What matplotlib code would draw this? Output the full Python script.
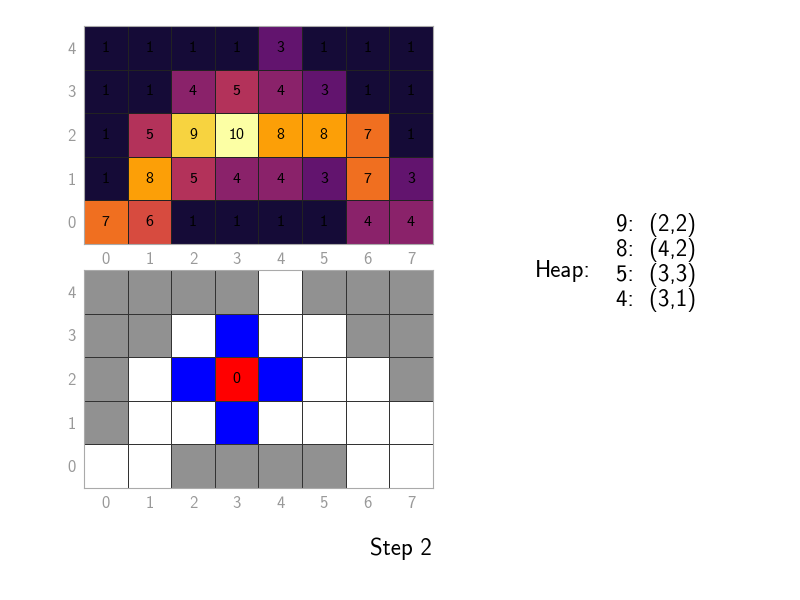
import numpy as np
import matplotlib
matplotlib.use("Agg")
import matplotlib.pyplot as plt
from matplotlib.colors import ListedColormap, PowerNorm

plt.rcParams['font.family'] = ['cmss10', 'DejaVu Sans']
plt.rcParams['axes.unicode_minus'] = False

# heat values, row 0 at the bottom
heat = [
    [7, 6, 1, 1, 1, 1, 4, 4],
    [1, 8, 5, 4, 4, 3, 7, 3],
    [1, 5, 9, 10, 8, 8, 7, 1],
    [1, 1, 4, 5, 4, 3, 1, 1],
    [1, 1, 1, 1, 3, 1, 1, 1],
]
# cell state: 0 free, 1 blocked, 2 neighbour, 3 current
state = [
    [0, 0, 1, 1, 1, 1, 0, 0],
    [1, 0, 0, 2, 0, 0, 0, 0],
    [1, 0, 2, 3, 2, 0, 0, 1],
    [1, 1, 0, 2, 0, 0, 1, 1],
    [1, 1, 1, 1, 0, 1, 1, 1],
]
current = (3, 2)
current_label = "0"
heap = ["9:  (2,2)", "8:  (4,2)", "5:  (3,3)", "4:  (3,1)"]
step = "Step 2"

heat = np.array(heat)
state = np.array(state)
ny, nx = heat.shape

fig = plt.figure(figsize=(8, 6), dpi=100)
ax1 = fig.add_axes([0.105, 0.5933, 0.436, 0.3634])
ax2 = fig.add_axes([0.105, 0.1867, 0.436, 0.3633])

ax1.pcolormesh(np.arange(nx + 1) - 0.5, np.arange(ny + 1) - 0.5, heat,
               cmap='inferno', norm=PowerNorm(gamma=1.1, vmin=-0.2, vmax=10),
               edgecolors='#222222', linewidth=0.5)
for j in range(ny):
    for i in range(nx):
        ax1.text(i, j, str(heat[j, i]), ha='center', va='center', fontsize=11.5, color='black')

cmap = ListedColormap(['white', '#919191', 'blue', 'red'])
ax2.pcolormesh(np.arange(nx + 1) - 0.5, np.arange(ny + 1) - 0.5, state,
               cmap=cmap, vmin=-0.5, vmax=3.5, edgecolors='#333333', linewidth=0.6)
ax2.text(current[0], current[1], current_label, ha='center', va='center', fontsize=11.5, color='black')

for ax in (ax1, ax2):
    ax.set_xlim(-0.5, nx - 0.5)
    ax.set_ylim(-0.5, ny - 0.5)
    ax.set_xticks(range(nx))
    ax.set_yticks(range(ny))
    ax.tick_params(length=0, labelsize=12, labelcolor='#999999', pad=6)
    for s in ax.spines.values():
        s.set_color('#aaaaaa')

fig.text(0.668, 0.548, "Heap:", fontsize=16.5, ha='left', va='center')
for k, h in enumerate(heap):
    fig.text(0.77, 0.625 - k * 0.0417, h, fontsize=16.5, ha='left', va='center')
fig.text(0.54, 0.085, step, fontsize=16.5, ha='right', va='center')

fig.savefig("out.png", dpi=100)
